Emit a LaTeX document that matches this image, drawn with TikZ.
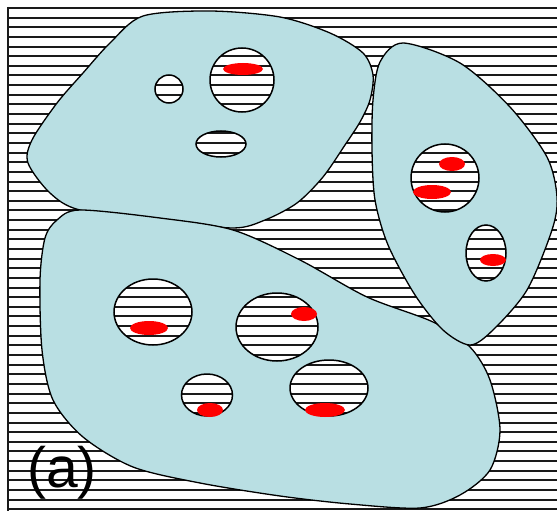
\documentclass[tikz,border=0pt]{standalone}
\usepackage{fontspec}
\setmainfont{Liberation Sans}
\definecolor{cell}{HTML}{B9DFE3}
\definecolor{hatch}{HTML}{1A1A1A}
\definecolor{spotred}{HTML}{FF0000}
\tikzset{
  hatchline/.style={hatch,line width=2pt},
  rim/.style={draw=black,line width=1.3pt},
  pore/.style={draw=black,line width=1.5pt},
  spot/.style={fill=spotred},
}

\begin{document}
\begin{tikzpicture}[x=1pt,y=-1pt]
\useasboundingbox (0,0) rectangle (557,511);
\fill[white] (0,0) rectangle (557,511);
% hatched background
\foreach \k in {0,...,52}
  \draw[hatchline] (8,8+9.64*\k) -- (557,8+9.64*\k);
\draw[hatchline] (8,7) -- (8,511);
% upper left cell
\fill[cell,even odd rule] plot[smooth cycle] coordinates {(143,16) (210,11) (280,17) (330,33) (363,53) (373,75) (370,100) (360,122) (345,145) (323,177) (297,203) (265,220) (233,228) (160,220) (80,210) (50,193) (28,163) (32,140) (57,103) (83,73) (110,43)}
  (169,89) ellipse [x radius=14pt,y radius=14pt]
  (242,80) ellipse [x radius=32pt,y radius=32pt]
  (221,144) ellipse [x radius=25pt,y radius=13pt];
\draw[rim] plot[smooth cycle] coordinates {(143,16) (210,11) (280,17) (330,33) (363,53) (373,75) (370,100) (360,122) (345,145) (323,177) (297,203) (265,220) (233,228) (160,220) (80,210) (50,193) (28,163) (32,140) (57,103) (83,73) (110,43)};
% lower cell
\fill[cell,even odd rule] plot[smooth cycle] coordinates {(80,210) (160,218) (233,230) (300,260) (367,297) (433,322) (470,347) (490,380) (500,430) (490,470) (460,495) (420,508) (350,504) (280,496) (200,483) (133,467) (83,437) (53,400) (42,350) (40,280) (45,238) (57,220)}
  (153,312) ellipse [x radius=39pt,y radius=33pt]
  (277,327) ellipse [x radius=41pt,y radius=34pt]
  (207,395) ellipse [x radius=25.5pt,y radius=21pt]
  (329,388) ellipse [x radius=39pt,y radius=28pt];
\draw[rim] plot[smooth cycle] coordinates {(80,210) (160,218) (233,230) (300,260) (367,297) (433,322) (470,347) (490,380) (500,430) (490,470) (460,495) (420,508) (350,504) (280,496) (200,483) (133,467) (83,437) (53,400) (42,350) (40,280) (45,238) (57,220)};
% right cell
\fill[cell,even odd rule] plot[smooth cycle] coordinates {(403,43) (380,62) (373,100) (372,150) (375,200) (388,245) (415,295) (443,330) (470,345) (493,330) (527,290) (552,230) (557,197) (547,157) (510,107) (460,63)}
  (445,178) ellipse [x radius=34pt,y radius=34pt]
  (486,253) ellipse [x radius=20pt,y radius=28pt];
\draw[rim] plot[smooth cycle] coordinates {(403,43) (380,62) (373,100) (372,150) (375,200) (388,245) (415,295) (443,330) (470,345) (493,330) (527,290) (552,230) (557,197) (547,157) (510,107) (460,63)};
% pore rims
\draw[pore] (169,89) ellipse [x radius=14pt,y radius=14pt];
\draw[pore] (242,80) ellipse [x radius=32pt,y radius=32pt];
\draw[pore] (221,144) ellipse [x radius=25pt,y radius=13pt];
\draw[pore] (153,312) ellipse [x radius=39pt,y radius=33pt];
\draw[pore] (277,327) ellipse [x radius=41pt,y radius=34pt];
\draw[pore] (207,395) ellipse [x radius=25.5pt,y radius=21pt];
\draw[pore] (329,388) ellipse [x radius=39pt,y radius=28pt];
\draw[pore] (445,178) ellipse [x radius=34pt,y radius=34pt];
\draw[pore] (486,253) ellipse [x radius=20pt,y radius=28pt];
% red spots
\fill[spot] (243,69) ellipse [x radius=20pt,y radius=6pt];
\fill[spot] (452,164) ellipse [x radius=13pt,y radius=7pt];
\fill[spot] (432,192) ellipse [x radius=19pt,y radius=7pt];
\fill[spot] (493,260) ellipse [x radius=13pt,y radius=6pt];
\fill[spot] (149,328) ellipse [x radius=19pt,y radius=7pt];
\fill[spot] (304,314) ellipse [x radius=13pt,y radius=7pt];
\fill[spot] (210,410) ellipse [x radius=13pt,y radius=7pt];
\fill[spot] (325,410) ellipse [x radius=20pt,y radius=7pt];
\node[inner sep=0,font=\fontsize{57}{60}\selectfont] (tag) at (62,473) {(a)};
\end{tikzpicture}
\end{document}
